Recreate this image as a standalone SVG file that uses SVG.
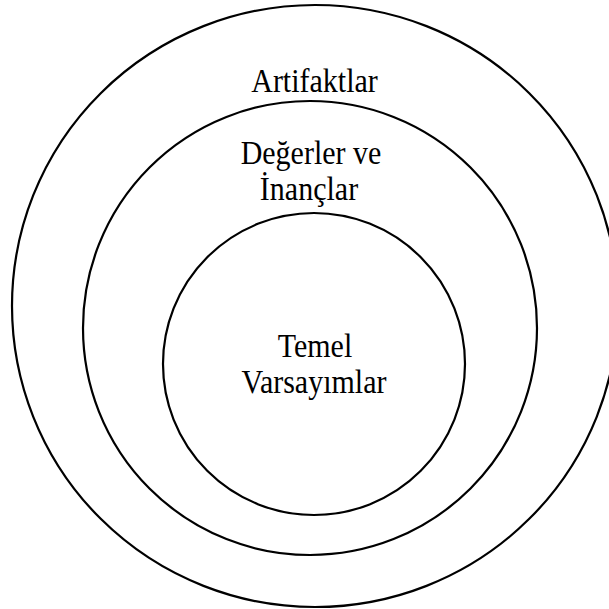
<svg xmlns="http://www.w3.org/2000/svg" width="609" height="609" viewBox="0 0 609 609">
  <style>
    .ring { fill: none; stroke: #000; stroke-width: 2.2; }
    .label { font-family: "Liberation Serif", "Times New Roman", serif; font-size: 30px; fill: #000; text-anchor: middle; }
  </style>
  <rect width="609" height="609" fill="#fff"/>
  <!-- outer layer -->
  <g id="artifaktlar">
    <ellipse class="ring" cx="315" cy="306" rx="303" ry="301"/>
    <text class="label" transform="translate(314.5 92) scale(1 1.12)">Artifaktlar</text>
  </g>
  <!-- middle layer -->
  <g id="degerler">
    <circle class="ring" cx="310" cy="328" r="227"/>
    <text class="label" transform="translate(311 164) scale(1 1.12)">Değerler ve</text>
    <text class="label" transform="translate(309 200) scale(1 1.12)">İnançlar</text>
  </g>
  <!-- core -->
  <g id="varsayimlar">
    <circle class="ring" cx="314" cy="364" r="151"/>
    <text class="label" transform="translate(315 357) scale(1 1.12)">Temel</text>
    <text class="label" transform="translate(314 393) scale(1 1.12)">Varsayımlar</text>
  </g>
  <g id="connectors"/>
</svg>
